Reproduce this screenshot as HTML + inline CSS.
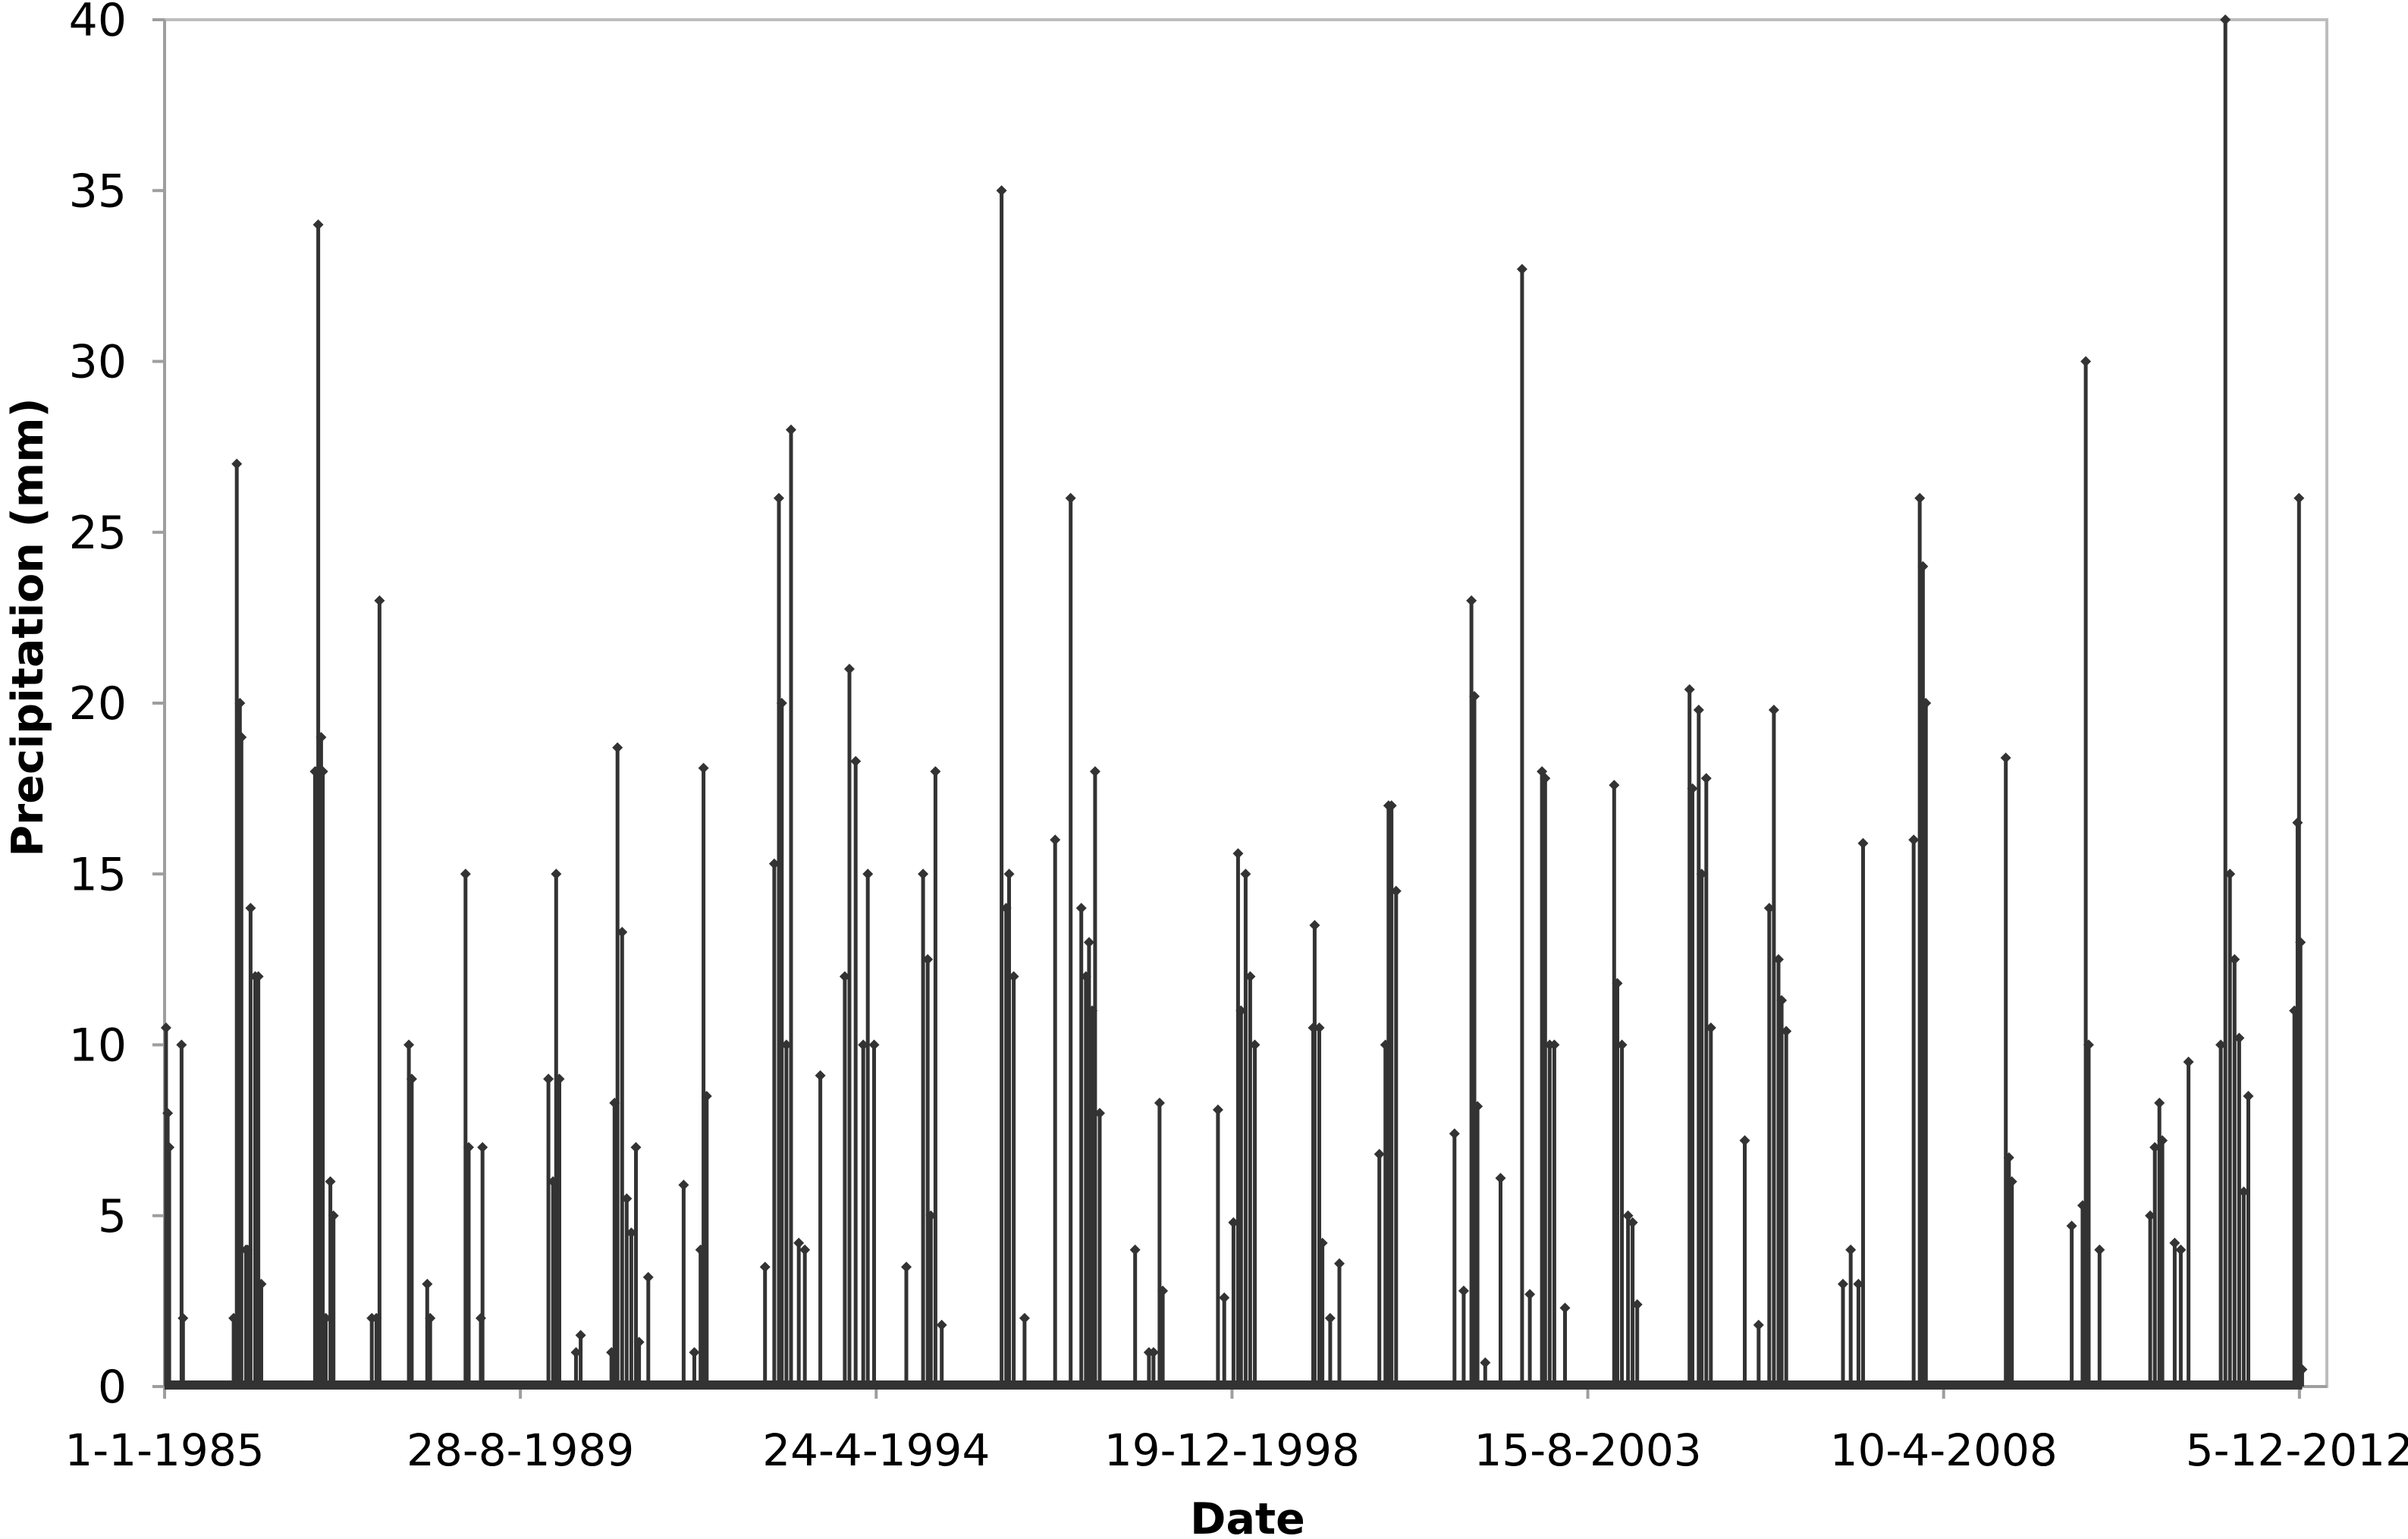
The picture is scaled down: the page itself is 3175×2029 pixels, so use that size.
<!DOCTYPE html>
<html><head><meta charset="utf-8"><style>
html,body{margin:0;padding:0;background:#fff}
svg{display:block}
text{font-family:"DejaVu Sans","Liberation Sans",sans-serif;fill:#000}
</style></head><body>
<svg id="chart" width="3175" height="2029" viewBox="0 0 3175 2029" xmlns="http://www.w3.org/2000/svg">
<rect x="217" y="26" width="2851" height="1802" fill="none" stroke="#bdbdbd" stroke-width="4"/>
<g id="yaxis"></g>
<g id="xaxis"></g>
<g id="series"></g>
<text transform="translate(56,827) rotate(-90)" text-anchor="middle" font-size="57" font-weight="bold">Precipitation (mm)</text>
<text x="1645" y="2022" text-anchor="middle" font-size="57" font-weight="bold">Date</text>
</svg>
<script>
const yTicks = [0,5,10,15,20,25,30,35,40];
const xTickDays = [0,1700,3400,5100,6800,8500,10200];
const xTickLabels = ["1-1-1985","28-8-1989","24-4-1994","19-12-1998","15-8-2003","10-4-2008","5-12-2012"];
const spikeDays = [
7,15,22,81,88,
330,345,360,367,389,396,411,433,448,462,
719,726,734,748,756,770,792,807,
990,1012,1027,
1167,1181,1255,1269,
1438,1453,1511,1519,
1834,1856,1871,1886,
1966,1988,
2135,2150,2164,2186,2208,2230,2252,2267,2311,
2480,2531,2561,2575,2590,
2869,2913,2935,2949,2971,2993,3030,3059,3133,
3250,3272,3302,3338,3360,3390,
3544,3624,3646,3661,3683,3713,
3999,4021,4035,4057,4109,
4255,4329,4380,4402,4417,4432,4446,4468,
4637,4703,4725,4754,4769,
5033,5063,5107,5129,5143,5165,5187,5209,
5488,5495,5517,5532,5569,5613,
5804,5833,5848,5862,5884,
6163,6207,6244,6258,6273,6310,
6383,6486,6523,6581,6596,6618,6640,6691,
6926,6941,6963,6992,7014,7036,
7286,7300,7330,7344,7366,7388,
7550,7616,7667,7689,7711,7726,7748,
8019,8056,8093,8115,
8357,8386,8401,8415,
8797,8812,8826,
9112,9164,9179,9193,9245,
9487,9509,9531,9545,9604,9633,9670,
9824,9846,9868,9890,9912,9934,9956,
10176,10191,10198,10205,10213];
const spikeValues = [
10.5,8,7,10,2,
2,27,20,19,4,4,14,12,12,3,
18,18,34,19,18,2,6,5,
2,2,23,
10,9,3,2,
15,7,2,7,
9,6,15,9,
1,1.5,
1,8.3,18.7,13.3,5.5,4.5,7,1.3,3.2,
5.9,1,4,18.1,8.5,
3.5,15.3,26,20,10,28,4.2,4,9.1,
12,21,18.3,10,15,10,
3.5,15,12.5,5,18,1.8,
35,14,15,12,2,
16,26,14,12,13,11,18,8,
4,1,1,8.3,2.8,
8.1,2.6,4.8,15.6,11,15,12,10,
10.5,13.5,10.5,4.2,2,3.6,
6.8,10,17,17,14.5,
7.4,2.8,23,20.2,8.2,0.7,
6.1,32.7,2.7,18,17.8,10,10,2.3,
17.6,11.8,10,5,4.8,2.4,
20.4,17.5,19.8,15,17.8,10.5,
7.2,1.8,14,19.8,12.5,11.3,10.4,
3,4,3,15.9,
16,26,24,20,
18.4,6.7,6,
4.7,5.3,30,10,4,
5,7,8.3,7.2,4.2,4,9.5,
10,40,15,12.5,10.2,5.7,8.5,
11,16.5,26,13,0.5];
const X0=217, X1=3068, Y0=1828, Y1=26, DMAX=10331, VMAX=40;
const xs=d=>X0+(X1-X0)*d/DMAX;
const ys=v=>Y0-(Y0-Y1)*v/VMAX;
const NS="http://www.w3.org/2000/svg";
function mk(tag,attrs,parent){const e=document.createElementNS(NS,tag);for(const k in attrs)e.setAttribute(k,attrs[k]);parent.appendChild(e);return e;}
const ya=document.getElementById('yaxis'), xa=document.getElementById('xaxis'), sg=document.getElementById('series');
mk('line',{x1:X0,y1:Y1,x2:X0,y2:Y0,stroke:'#9e9e9e','stroke-width':4},ya);
yTicks.forEach(v=>{
  const t=mk('line',{x1:X0-16,y1:ys(v),x2:X0,y2:ys(v),stroke:'#9e9e9e','stroke-width':4},ya);
  
  
  const l=mk('text',{x:X0-50,y:ys(v)+21,'text-anchor':'end','font-size':60},ya);
  l.textContent=v;
  
  
});
mk('line',{x1:X0,y1:Y0,x2:X1,y2:Y0,stroke:'#9e9e9e','stroke-width':4},xa);
xTickDays.forEach((d,i)=>{
  const t=mk('line',{x1:xs(d),y1:Y0,x2:xs(d),y2:Y0+16,stroke:'#9e9e9e','stroke-width':4},xa);
  
  
  const l=mk('text',{x:xs(d),y:1932,'text-anchor':'middle','font-size':58},xa);
  l.textContent=xTickLabels[i];
  
  
});
const last=spikeDays[spikeDays.length-1];
const base=mk('line',{x1:xs(0),y1:Y0-2,x2:xs(last),y2:Y0-2,stroke:'#333','stroke-width':12},sg);


let p='';
spikeDays.forEach((d,i)=>{p+='M'+xs(d).toFixed(1)+' '+Y0+'V'+ys(spikeValues[i]).toFixed(1);});
const path=mk('path',{d:p,stroke:'#333','stroke-width':5,fill:'none'},sg);


spikeDays.forEach((d,i)=>{
  const x=xs(d), y=ys(spikeValues[i]);
  const m=mk('path',{d:`M${x} ${y-7}L${x+7} ${y}L${x} ${y+7}L${x-7} ${y}Z`,fill:'#333'},sg);
  
  
});
</script>
</body></html>
